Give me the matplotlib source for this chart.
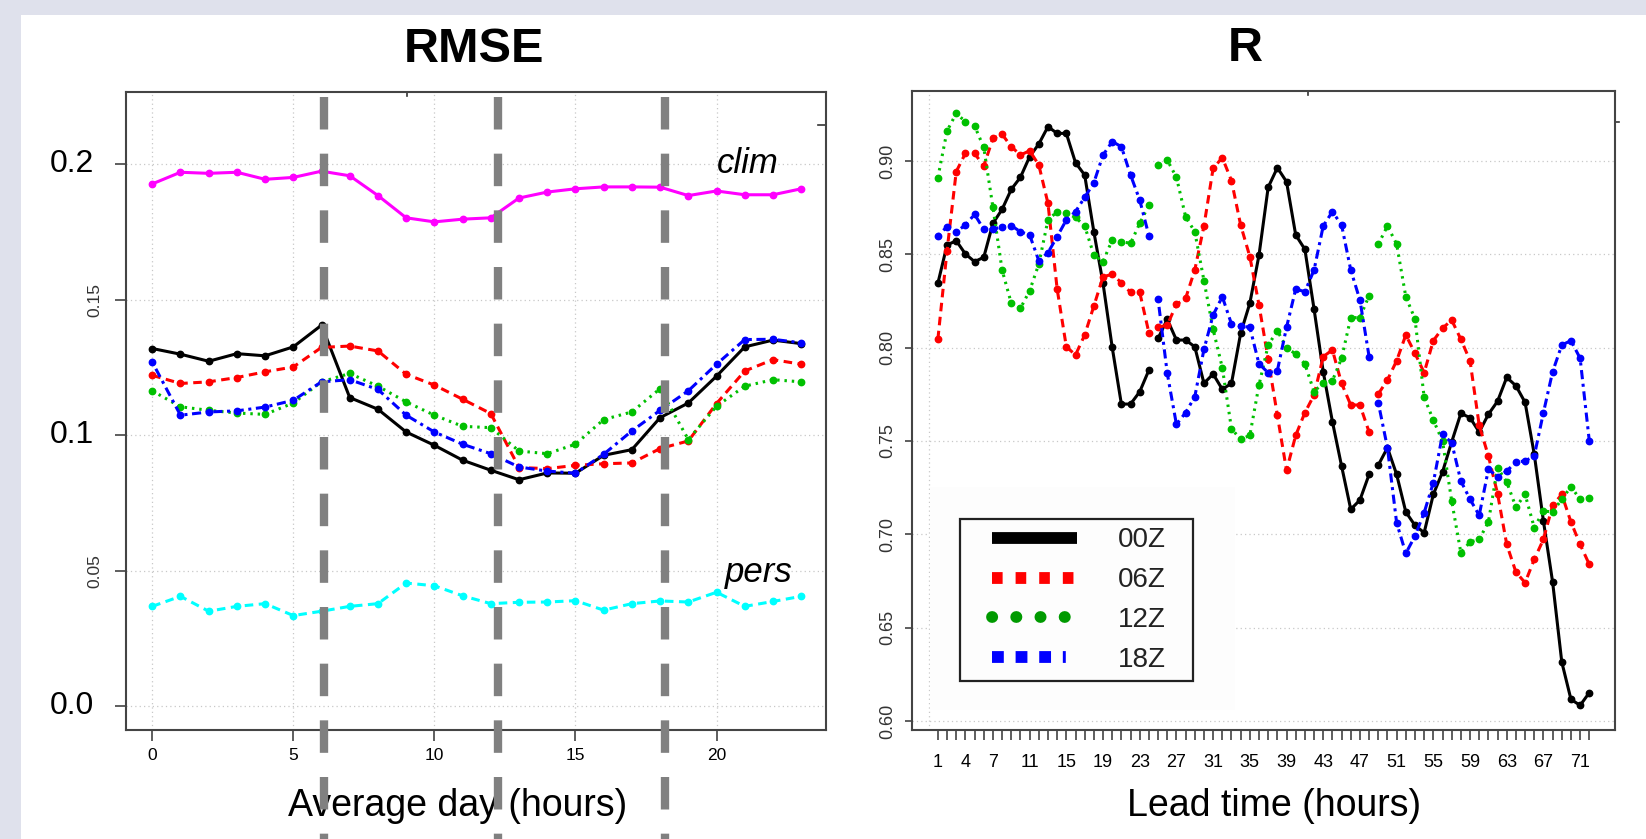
import matplotlib
matplotlib.use('Agg')
import matplotlib.pyplot as plt
from matplotlib import font_manager
from matplotlib.lines import Line2D
from matplotlib.patches import Rectangle

installed = {f.name for f in font_manager.fontManager.ttflist}
NARROW = 'Liberation Sans Narrow' if 'Liberation Sans Narrow' in installed else 'Liberation Sans'
PLAIN = 'Liberation Sans'

# ---- left panel: RMSE over the average day ----
hours = list(range(24))
rmse_clim = [0.1927, 0.1970, 0.1966, 0.1970, 0.1944, 0.1951, 0.1974, 0.1957, 0.1884, 0.1802,
             0.1787, 0.1797, 0.1802, 0.1875, 0.1897, 0.1909, 0.1916, 0.1916, 0.1915, 0.1884,
             0.1901, 0.1887, 0.1887, 0.1909]
rmse_pers = [0.0369, 0.0406, 0.0351, 0.0369, 0.0379, 0.0335, 0.0351, 0.0369, 0.0379, 0.0455,
             0.0445, 0.0408, 0.0379, 0.0384, 0.0385, 0.0390, 0.0355, 0.0379, 0.0389, 0.0385,
             0.0421, 0.0369, 0.0387, 0.0406]
rmse_00z = [0.1320, 0.1299, 0.1273, 0.1301, 0.1293, 0.1326, 0.1406, 0.1139, 0.1096, 0.1012,
            0.0963, 0.0908, 0.0871, 0.0836, 0.0861, 0.0860, 0.0926, 0.0947, 0.1065, 0.1119,
            0.1218, 0.1326, 0.1351, 0.1338]
rmse_06z = [0.1221, 0.1191, 0.1197, 0.1213, 0.1234, 0.1252, 0.1324, 0.1329, 0.1311, 0.1225,
            0.1185, 0.1133, 0.1080, 0.0881, 0.0877, 0.0889, 0.0895, 0.0898, 0.0951, 0.0979,
            0.1117, 0.1237, 0.1279, 0.1262]
rmse_12z = [0.1164, 0.1105, 0.1092, 0.1082, 0.1077, 0.1119, 0.1197, 0.1228, 0.1181, 0.1123,
            0.1074, 0.1033, 0.1028, 0.0942, 0.0932, 0.0967, 0.1058, 0.1086, 0.1172, 0.0984,
            0.1107, 0.1181, 0.1205, 0.1197]
rmse_18z = [0.1270, 0.1074, 0.1086, 0.1090, 0.1104, 0.1129, 0.1197, 0.1205, 0.1169, 0.1074,
            0.1012, 0.0967, 0.0932, 0.0883, 0.0868, 0.0860, 0.0930, 0.1016, 0.1092, 0.1164,
            0.1262, 0.1353, 0.1354, 0.1341]
day_marks = [6.1, 12.27, 18.16]
rmse_yticks = [0.0, 0.05, 0.1, 0.15, 0.2]
rmse_ylabels = ['0.0', '0.05', '0.1', '0.15', '0.2']
hour_ticks = [0, 5, 10, 15, 20]

# ---- right panel: correlation vs lead time ----
lead = list(range(1, 73))
r_00z = [0.8345, 0.8550, 0.8573, 0.8502, 0.8461, 0.8484, 0.8666, 0.8741, 0.8848, 0.8913, 0.9023, 0.9091,
         0.9184, 0.9148, 0.9148, 0.8991, 0.8925, 0.8621, 0.8345, 0.8002, 0.7698, 0.7698, 0.7764, 0.7880,
         0.8050, 0.8152, 0.8041, 0.8041, 0.8005, 0.7809, 0.7859, 0.7777, 0.7809, 0.8077, 0.8238, 0.8496,
         0.8859, 0.8964, 0.8889, 0.8604, 0.8527, 0.8207, 0.7871, 0.7604, 0.7366, 0.7134, 0.7184, 0.7321,
         0.7371, 0.7464, 0.7321, 0.7120, 0.7048, 0.7009, 0.7214, 0.7334, 0.7495, 0.7648, 0.7625, 0.7548,
         0.7643, 0.7713, 0.7841, 0.7796, 0.7707, 0.7429, 0.7071, 0.6745, 0.6316, 0.6116, 0.6084, 0.6152]
r_06z = [0.8045, 0.8520, 0.8943, 0.9041, 0.9041, 0.8973, 0.9121, 0.9143, 0.9077, 0.9032, 0.9055, 0.8979,
         0.8773, 0.8314, 0.8005, 0.7961, 0.8068, 0.8223, 0.8380, 0.8393, 0.8348, 0.8296, 0.8296, 0.8080,
         0.8109, 0.8121, 0.8232, 0.8264, 0.8416, 0.8652, 0.8961, 0.9018, 0.8895, 0.8657, 0.8488, 0.8229,
         0.7938, 0.7638, 0.7343, 0.7530, 0.7652, 0.7746, 0.7952, 0.7988, 0.7809, 0.7693, 0.7693, 0.7548,
         0.7752, 0.7827, 0.7930, 0.8068, 0.7970, 0.7866, 0.8038, 0.8104, 0.8148, 0.8045, 0.7930, 0.7584,
         0.7420, 0.7218, 0.6946, 0.6798, 0.6741, 0.6866, 0.6973, 0.7155, 0.7214, 0.7066, 0.6946, 0.6839]
r_12z = [0.8911, 0.9161, 0.9255, 0.9211, 0.9188, 0.9073, 0.8752, 0.8416, 0.8238, 0.8211, 0.8305, 0.8448,
         0.8684, 0.8729, 0.8720, 0.8698, 0.8652, 0.8496, 0.8461, 0.8577, 0.8568, 0.8559, 0.8666, 0.8764,
         0.8979, 0.9005, 0.8913, 0.8702, 0.8621, 0.8359, 0.8098, 0.7893, 0.7566, 0.7509, 0.7530, 0.7800,
         0.8014, 0.8091, 0.8000, 0.7966, 0.7913, 0.7764, 0.7813, 0.7823, 0.7943, 0.8161, 0.8161, 0.8279,
         0.8554, 0.8652, 0.8555, 0.8273, 0.8154, 0.7734, 0.7612, 0.7500, 0.7179, 0.6902, 0.6959, 0.6973,
         0.7066, 0.7357, 0.7280, 0.7146, 0.7214, 0.7036, 0.7125, 0.7120, 0.7188, 0.7255, 0.7188, 0.7196]
r_18z = [0.8600, 0.8648, 0.8621, 0.8657, 0.8714, 0.8634, 0.8634, 0.8648, 0.8654, 0.8621, 0.8604, 0.8466,
         0.8509, 0.8595, 0.8684, 0.8729, 0.8805, 0.8884, 0.9032, 0.9104, 0.9077, 0.8925, 0.8791, 0.8600,
         0.8259, 0.7863, 0.7589, 0.7652, 0.7737, 0.7991, 0.8175, 0.8273, 0.8127, 0.8116, 0.8109, 0.7913,
         0.7866, 0.7877, 0.8109, 0.8314, 0.8300, 0.8416, 0.8652, 0.8729, 0.8657, 0.8416, 0.8255, 0.7952,
         0.7705, 0.7464, 0.7062, 0.6898, 0.6991, 0.7116, 0.7277, 0.7536, 0.7491, 0.7286, 0.7188, 0.7102,
         0.7348, 0.7309, 0.7339, 0.7388, 0.7393, 0.7420, 0.7652, 0.7871, 0.8014, 0.8038, 0.7943, 0.7500]
r_yticks = [0.60, 0.65, 0.70, 0.75, 0.80, 0.85, 0.90]
lead_labels = [1, 4, 7, 11, 15, 19, 23, 27, 31, 35, 39, 43, 47, 51, 55, 59, 63, 67, 71]
run_names = ['00Z', '06Z', '12Z', '18Z']

colors = {'00Z': '#000000', '06Z': '#ff0000', '12Z': '#00c000', '18Z': '#0000ff'}
styles = {'00Z': '-', '06Z': (0, (2.8, 1.8)), '12Z': (0, (0.8, 1.6)), '18Z': (0, (1, 1.5, 3, 1.5))}
grid_kw = dict(color='#c8c8c8', lw=0.9, linestyle=(0, (1, 2.5)))

W, H = 1646, 839
fig = plt.figure(figsize=(W / 100, H / 100), dpi=100)
fig.patch.set_facecolor('#dfe1ec')
fig.add_artist(Rectangle((21 / W, 0), 1, 1 - 15 / H, transform=fig.transFigure,
                         facecolor='white', edgecolor='none', zorder=-5))

# ================= RMSE =================
ax = fig.add_axes([126 / W, 1 - 730 / H, 700 / W, 638 / H])
ax.set_xlim(-0.93, 23.88)
ax.set_ylim(-0.0087, 0.2266)
ax.grid(True, **grid_kw)
ax.set_axisbelow(True)

mk = dict(marker='o', markersize=4.6)
ax.plot(hours, rmse_clim, color='#ff00ff', lw=2.2, **mk)
ax.plot(hours, rmse_pers, color='#00ffff', lw=2.2, linestyle=(0, (2.8, 1.8)), **mk)
for name, vals in zip(run_names, [rmse_00z, rmse_06z, rmse_12z, rmse_18z]):
    ax.plot(hours, vals, color=colors[name], lw=2.2, linestyle=styles[name], **mk)

for x in day_marks:
    ax.plot([x, x], [0.992, -0.2], transform=ax.get_xaxis_transform(), clip_on=False,
            color='#808080', lw=6, linestyle=(0, (3.9, 2.9)), solid_capstyle='butt', zorder=10)

ax.text(21.1, 0.2004, 'clim', fontsize=25, style='italic', family=PLAIN, ha='center', va='center')
ax.text(21.5, 0.0495, 'pers', fontsize=25, style='italic', family=PLAIN, ha='center', va='center')

ax.set_xticks(hour_ticks)
ax.set_xticklabels([str(h) for h in hour_ticks], fontsize=12.5, family=NARROW)
ax.set_yticks(rmse_yticks)
ax.set_yticklabels([''] * len(rmse_yticks))
ax.tick_params(axis='both', direction='out', length=8, width=1.1, color='#333333')
ax.tick_params(axis='x', pad=5)
for v, lab in zip(rmse_yticks, rmse_ylabels):
    if lab in ('0.05', '0.15'):
        ax.text(-0.044, v, lab, transform=ax.get_yaxis_transform(), rotation=90,
                ha='center', va='center', fontsize=12.5, color='#333333', family=PLAIN)
    else:
        ax.text(-0.046, v, lab, transform=ax.get_yaxis_transform(),
                ha='right', va='center', fontsize=23, family=NARROW)
for s in ax.spines.values():
    s.set_linewidth(1.5)
    s.set_color('#444444')
# stray ticks left on the frame in the original
ax.plot([0.401, 0.401], [1.0, 0.993], transform=ax.transAxes, color='#333333', lw=1.2, clip_on=False)
ax.plot([1.0, 0.988], [0.949, 0.949], transform=ax.transAxes, color='#333333', lw=1.2, clip_on=False)

ax.text(0.497, 1.066, 'RMSE', transform=ax.transAxes, ha='center', va='center',
        fontsize=35, fontweight='bold', family=NARROW)
ax.text(0.474, -0.119, 'Average day (hours)', transform=ax.transAxes, ha='center', va='center',
        fontsize=27, family=NARROW)

# ================= R =================
ax2 = fig.add_axes([912 / W, 1 - 730 / H, 703 / W, 639 / H])
ax2.set_xlim(-1.82, 74.8)
ax2.set_ylim(0.5952, 0.9375)
ax2.set_xticks(lead)
ax2.set_xticklabels([str(l) if l in lead_labels else '' for l in lead], fontsize=13, family=NARROW)
ax2.set_xticks(list(range(0, 71, 10)), minor=True)
ax2.tick_params(axis='x', which='minor', length=0)
ax2.tick_params(axis='x', which='major', direction='out', length=7, width=1.1,
                color='#333333', pad=10)
ax2.set_yticks(r_yticks)
ax2.set_yticklabels(['%.2f' % v for v in r_yticks], rotation=90, va='center',
                    fontsize=13, color='#333333', family=PLAIN)
ax2.tick_params(axis='y', direction='out', length=5, width=1.1, color='#333333', pad=6)
ax2.grid(True, which='minor', axis='x', **grid_kw)
ax2.grid(True, which='major', axis='y', **grid_kw)
ax2.grid(False, which='major', axis='x')
ax2.set_axisbelow(True)
for s in ax2.spines.values():
    s.set_linewidth(1.5)
    s.set_color('#444444')

# near-white panel the legend sits on (hides grid)
ax2.add_patch(Rectangle((0.0256, 0.0313), 0.434, 0.349, transform=ax2.transAxes,
                        facecolor='#fdfdfd', edgecolor='none', zorder=0.8))

for name, vals in zip(run_names, [r_00z, r_06z, r_12z, r_18z]):
    for s in (0, 24, 48):
        ax2.plot(lead[s:s + 24], vals[s:s + 24], color=colors[name], lw=2.2,
                 linestyle=styles[name], zorder=2, **mk)

ax2.plot([0.564, 0.564], [1.0, 0.993], transform=ax2.transAxes, color='#333333', lw=1.2, clip_on=False)
ax2.plot([1.0, 1.006], [0.951, 0.951], transform=ax2.transAxes, color='#333333', lw=1.2, clip_on=False)

handles = [
    Line2D([], [], color='#000000', lw=8.5, solid_capstyle='butt'),
    Line2D([], [], color='#ff0000', lw=8.5, linestyle=(0, (0.9, 1.1)), dash_capstyle='butt'),
    Line2D([], [], color='#009a00', lw=8.5, linestyle=(0, (0.02, 2.03)), dash_capstyle='round'),
    Line2D([], [], color='#0000ff', lw=8.5, linestyle=(0, (1, 1, 1, 1, 1, 1, 0.25, 3)),
           dash_capstyle='butt'),
]
leg = ax2.legend(handles, run_names, loc='upper left', bbox_to_anchor=(0.1138, 0.317),
                 frameon=False, borderpad=0, borderaxespad=0, handlelength=3.06,
                 handletextpad=1.47, labelspacing=0.5,
                 prop={'family': NARROW, 'size': 20})
for t in leg.get_texts():
    t.set_color('#222222')
ax2.add_patch(Rectangle((0.0683, 0.0767), 0.3314, 0.2535, transform=ax2.transAxes,
                        facecolor='none', edgecolor='#222222', lw=1.6, zorder=5))

ax2.text(0.474, 1.066, 'R', transform=ax2.transAxes, ha='center', va='center',
         fontsize=35, fontweight='bold', family=NARROW)
ax2.text(0.515, -0.119, 'Lead time (hours)', transform=ax2.transAxes, ha='center', va='center',
         fontsize=27, family=NARROW)

fig.savefig('out.png', dpi=100, facecolor=fig.get_facecolor())
